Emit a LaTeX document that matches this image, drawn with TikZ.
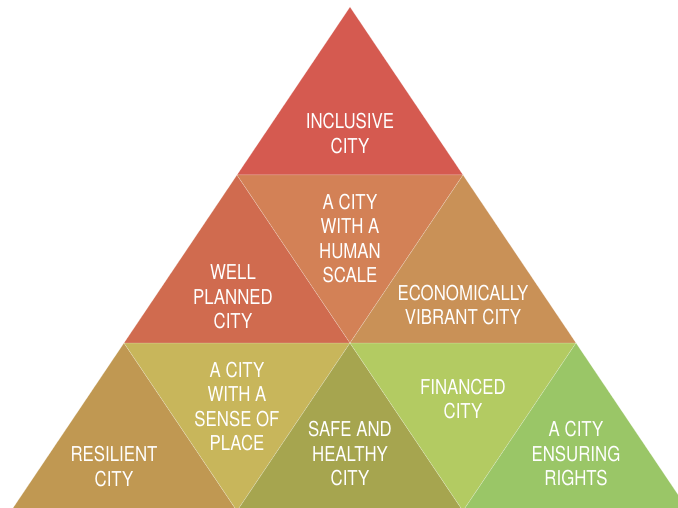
\documentclass[tikz,border=0pt]{standalone}
\usepackage{fontspec}
\setsansfont{TeX Gyre Heros}[FakeStretch=0.82]
\definecolor{inclusive}{HTML}{D55A50}
\definecolor{planned}{HTML}{D06B4F}
\definecolor{human}{HTML}{D38156}
\definecolor{vibrant}{HTML}{C99157}
\definecolor{resilient}{HTML}{C09852}
\definecolor{place}{HTML}{C8B65B}
\definecolor{healthy}{HTML}{A6A54F}
\definecolor{financed}{HTML}{B3CB62}
\definecolor{rights}{HTML}{9AC667}
\tikzset{
    piece/.style={draw=white, draw opacity=0.35, line width=0.5pt},
    lbl/.style={text=white, font=\sffamily\fontsize{20.5}{24.5}\selectfont, align=center, inner sep=0pt}
}
\begin{document}
\begin{tikzpicture}[x=1pt,y=-1pt]
        \useasboundingbox (0,0) rectangle (678,508);
        \clip (0,0) rectangle (678,508);
        %corners:
        \foreach \n/\x/\y in {a/350/7,l1/237/175,r1/463/175,l2/124/343,m2/350/343,r2/576/343,b0/11/511,b1/237/511,b2/463/511,b3/689/511}{
            \coordinate (\n) at (\x,\y);
        }
        %pieces:
        \foreach \p/\q/\r/\c in {a/l1/r1/inclusive,l1/l2/m2/planned,l1/r1/m2/human,r1/m2/r2/vibrant,l2/b0/b1/resilient,l2/m2/b1/place,m2/b1/b2/healthy,m2/r2/b2/financed,r2/b2/b3/rights}{
            \filldraw[piece, fill=\c] (\p) -- (\q) -- (\r) -- cycle;
        }
        %labels:
        \foreach \x/\y/\n/\l in {350/133.5/inc/{INCLUSIVE\\CITY},350/238.5/hum/{A CITY\\WITH A\\HUMAN\\SCALE},233/297/pla/{WELL\\PLANNED\\CITY},463/305/vib/{ECONOMICALLY\\VIBRANT CITY},237/406.5/sen/{A CITY\\WITH A\\SENSE OF\\PLACE},114/466.5/res/{RESILIENT\\CITY},350/454/saf/{SAFE AND\\HEALTHY\\CITY},463/399/fin/{FINANCED\\CITY},576/454/rig/{A CITY\\ENSURING\\RIGHTS}}{
            \node[lbl] (\n) at (\x,\y) {\l};
        }
    \end{tikzpicture}
\end{document}
